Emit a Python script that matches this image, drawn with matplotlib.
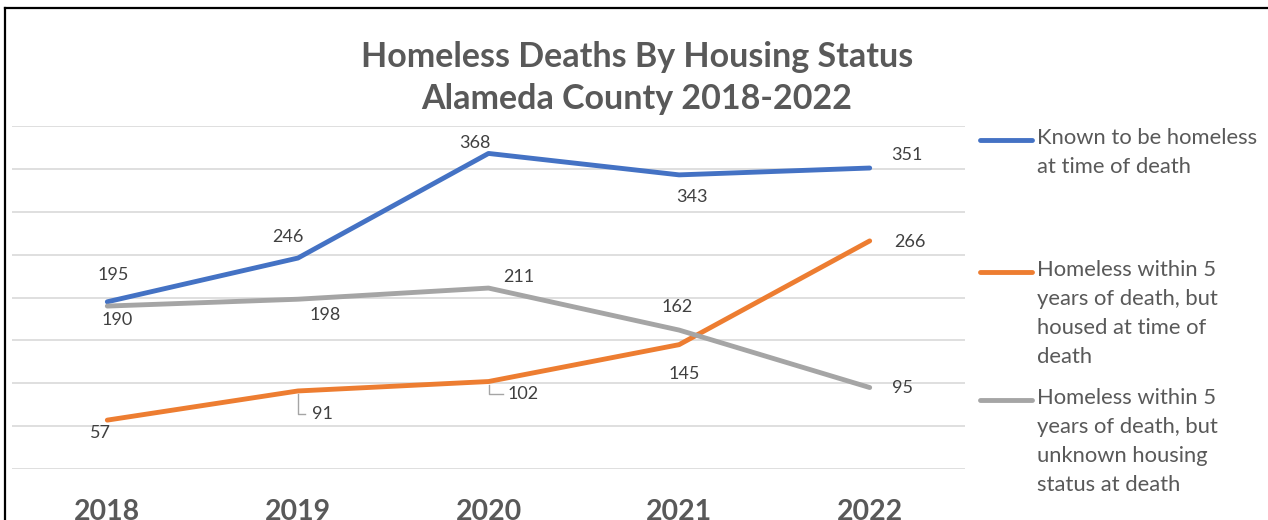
import matplotlib.pyplot as plt
from matplotlib.lines import Line2D
import numpy as np

years = ["2018", "2019", "2020", "2021", "2022"]
known_homeless = [195, 246, 368, 343, 351]
housed_at_death = [57, 91, 102, 145, 266]
unknown_housing = [190, 198, 211, 162, 95]

series_names = [
    "Known to be homeless\nat time of death",
    "Homeless within 5\nyears of death, but\nhoused at time of\ndeath",
    "Homeless within 5\nyears of death, but\nunknown housing\nstatus at death",
]
colors = ["#4472C4", "#ED7D31", "#A5A5A5"]

# label offsets in pixels (dx, dy) from each point, Excel style placement
label_offsets = [
    [(6, 27), (-10, 21), (-14, 10), (13, -22), (37, 13)],
    [(-7, -13), (25, -23), (35, -12), (5, -29), (40, -1)],
    [(10, -14), (27, -16), (30, 11), (-2, 23), (33, 0)],
]
leader_points = {(1, 1), (1, 2)}

plt.rcParams['font.family'] = ['Lato', 'DejaVu Sans']

W, H = 1268, 520
fig = plt.figure(figsize=(W / 100, H / 100), dpi=100)
ax = fig.add_axes([12 / W, (H - 469) / H, 953 / W, 343 / H])

x = np.arange(len(years))
all_series = [known_homeless, housed_at_death, unknown_housing]
for vals, c in zip(all_series, colors):
    ax.plot(x, vals, color=c, linewidth=3.5, solid_capstyle='round', solid_joinstyle='round', zorder=3)

ax.set_xlim(-0.5, len(years) - 0.5)
ax.set_ylim(0, 400)
ax.set_yticks(np.arange(0, 401, 50))
ax.yaxis.grid(True, color="#D9D9D9", linewidth=1.2)
ax.set_axisbelow(True)
ax.tick_params(axis='y', left=False, labelleft=False)
ax.tick_params(axis='x', bottom=False, pad=18)
ax.set_xticks(x)
ax.set_xticklabels(years, fontsize=20.5, fontweight='bold', color="#595959")
for s in ax.spines.values():
    s.set_visible(False)

# data labels
for si, vals in enumerate(all_series):
    for i, v in enumerate(vals):
        dx, dy = label_offsets[si][i]
        ax.annotate(str(v), xy=(x[i], v), xytext=(dx, dy), textcoords='offset pixels',
                    ha='center', va='center', fontsize=13, color="#404040", zorder=4)
        if (si, i) in leader_points:
            px, py = ax.transData.transform((x[i], v))
            pts = [(px, py - 3), (px, py + dy), (px + dx - 12 - 3 * len(str(v)), py + dy)]
            pts = ax.transData.inverted().transform(pts)
            ax.plot(pts[:, 0], pts[:, 1], color="#A5A5A5", linewidth=1.0, zorder=2)

# title
fig.text(637 / W, 1 - 78 / H, "Homeless Deaths By Housing Status\nAlameda County 2018-2022",
         ha='center', va='center', fontsize=24.5, fontweight='bold', color="#595959", linespacing=1.4)

# legend drawn by hand
legend_tops = [138, 270, 398]
for name, c, top in zip(series_names, colors, legend_tops):
    ly = 1 - (top + 2) / H
    fig.add_artist(Line2D([980 / W, 1032 / W], [ly, ly], color=c, linewidth=3.5,
                          solid_capstyle='round', transform=fig.transFigure))
    for k, line in enumerate(name.split("\n")):
        fig.text(1037 / W, 1 - (top + 29 * k) / H, line, ha='left', va='center',
                 fontsize=15.8, color="#595959")

# frame on top and left
fig.add_artist(Line2D([5 / W, 1], [1 - 8 / H, 1 - 8 / H], color='black', linewidth=1.6,
                      transform=fig.transFigure))
fig.add_artist(Line2D([5 / W, 5 / W], [0, 1 - 8 / H], color='black', linewidth=1.6,
                      transform=fig.transFigure))

fig.savefig("out.png", dpi=100)
